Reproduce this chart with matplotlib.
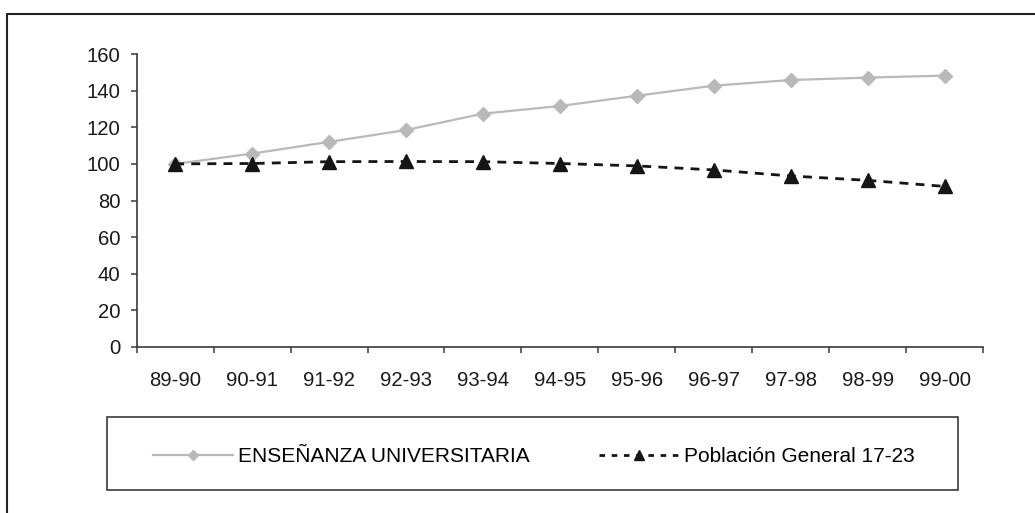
import matplotlib
matplotlib.use("Agg")
import matplotlib.pyplot as plt
from matplotlib.lines import Line2D
from matplotlib.patches import Rectangle
from matplotlib.ticker import FixedLocator, NullFormatter, FixedFormatter

plt.rcParams['font.family'] = ['Liberation Sans', 'DejaVu Sans']

categories = ["89-90", "90-91", "91-92", "92-93", "93-94", "94-95",
              "95-96", "96-97", "97-98", "98-99", "99-00"]
ensenanza = [100, 105.6, 112.0, 118.5, 127.4, 131.6, 137.2, 142.7, 145.8, 147.1, 148.2]
poblacion = [100, 100.2, 101.2, 101.3, 101.2, 100.2, 98.9, 96.7, 93.4, 91.0, 87.7]
label_ens = "ENSEÑANZA UNIVERSITARIA"
label_pob = "Población General 17-23"
yticks = [0, 20, 40, 60, 80, 100, 120, 140, 160]

W, H = 1035, 513
fig = plt.figure(figsize=(W / 100, H / 100), dpi=100)
fig.patch.set_facecolor('white')

ax_l, ax_r, ax_t, ax_b = 136.7, 983, 54, 347
ax = fig.add_axes([ax_l / W, 1 - ax_b / H, (ax_r - ax_l) / W, (ax_b - ax_t) / H])

x = list(range(len(categories)))
gray = '#b9b9bc'
ax.plot(x, ensenanza, color=gray, lw=1.6, marker='D', ms=6.8,
        mfc=gray, mec=gray, zorder=3)
ax.plot(x, poblacion, color='#151515', lw=2.0, linestyle=(0, (3.2, 2.6)),
        marker='^', ms=9.5, mfc='#151515', mec='#151515', zorder=4)

ax.set_xlim(-0.5, len(categories) - 0.5)
ax.set_ylim(0, 160)
ax.set_yticks(yticks)
ax.set_yticklabels([str(v) for v in yticks])

# category boundaries as major ticks, labels on minor ticks
ax.xaxis.set_major_locator(FixedLocator([i - 0.5 for i in range(len(categories) + 1)]))
ax.xaxis.set_major_formatter(NullFormatter())
ax.xaxis.set_minor_locator(FixedLocator(x))
ax.xaxis.set_minor_formatter(FixedFormatter(categories))

for s in ['top', 'right']:
    ax.spines[s].set_visible(False)
for s in ['left', 'bottom']:
    ax.spines[s].set_color('#3a3a3a')
    ax.spines[s].set_linewidth(1.2)

ax.tick_params(axis='y', which='major', direction='out', length=4.3, width=1.1,
               color='#3a3a3a', pad=7.5, labelsize=14.6, labelcolor='#1a1a1a')
ax.tick_params(axis='x', which='major', direction='out', length=4.3, width=1.1,
               color='#3a3a3a')
ax.tick_params(axis='x', which='minor', length=0, pad=17.5, labelsize=14.6,
               labelcolor='#1a1a1a')

# legend box
lx0, lx1, ly0, ly1 = 107, 958, 417, 490
fig.add_artist(Rectangle((lx0 / W, 1 - ly1 / H), (lx1 - lx0) / W, (ly1 - ly0) / H,
                         transform=fig.transFigure, fill=False,
                         edgecolor='#2a2a2a', lw=1.1))

h1 = Line2D([], [], color=gray, lw=1.6, marker='D', ms=5, mfc=gray, mec=gray)
h2 = Line2D([], [], color='#151515', lw=2.0, linestyle=(0, (2.0, 2.4)),
            marker='^', ms=7.5, mfc='#151515', mec='#151515')
fig.legend([h1, h2], [label_ens, label_pob], loc='center',
           bbox_to_anchor=(534 / W, 1 - 457 / H), bbox_transform=fig.transFigure,
           ncol=2, frameon=False, handlelength=3.84, handletextpad=0.24,
           columnspacing=3.36, prop={'family': 'Liberation Sans', 'size': 15.0})

# outer border (top and left visible)
fig.add_artist(Line2D([6.5 / W, 6.5 / W, 1.0], [0.0, 1 - 13.5 / H, 1 - 13.5 / H],
                      transform=fig.transFigure, color='#222222', lw=1.5))

fig.savefig('out.png', dpi=100, facecolor='white')
